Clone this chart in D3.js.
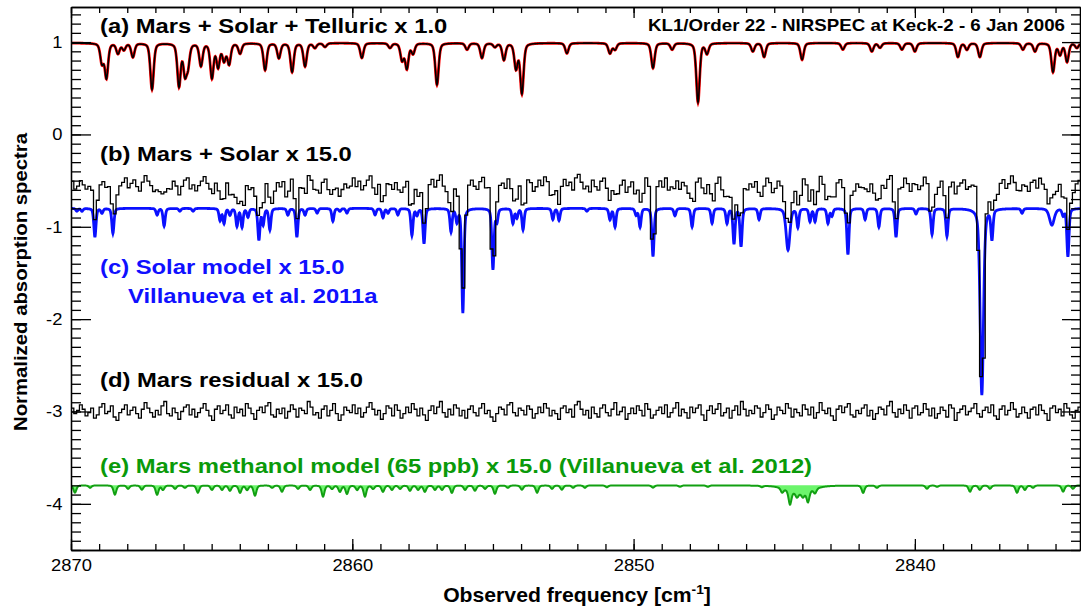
<!DOCTYPE html>
<html>
<head>
<meta charset="utf-8">
<script src="https://cdn.jsdelivr.net/npm/d3@7"></script>
<style>
body { margin: 0; background: #fff; }
text { font-family: "Liberation Sans", Arial, sans-serif; }
</style>
</head>
<body>
<div id="graph"></div>
<script>
// ---- data ----
// axis ranges
const freqDomain = [2870, 2834.13];
const yDomain = [-4.5, 1.38];
const xMajor = [2870, 2860, 2850, 2840];
const yMajor = [1, 0, -1, -2, -3, -4];

// continuum level of each stacked spectrum
const contA = 0.99, contB = -0.54, contC = -0.80, contD = -3.0, contE = -3.80;

// (a) Mars + solar + telluric: [freq cm-1, line minimum]
const tellLines = [
    [2868.90, 0.78], [2868.74, 0.62], [2868.33, 0.88], [2868.12, 0.92], [2867.80, 0.84],
    [2867.12, 0.49], [2866.16, 0.53], [2865.95, 0.68], [2865.84, 0.77], [2865.38, 0.75],
    [2864.99, 0.62], [2864.77, 0.74], [2864.56, 0.81], [2864.38, 0.77], [2863.99, 0.88],
    [2863.10, 0.70], [2862.61, 0.83], [2862.14, 0.68], [2861.68, 0.74], [2861.33, 0.94],
    [2860.97, 0.95], [2859.66, 0.83], [2858.66, 0.94], [2858.23, 0.81], [2858.06, 0.72],
    [2857.84, 0.88], [2856.99, 0.54], [2855.92, 0.92], [2855.39, 0.83], [2854.93, 0.95],
    [2854.61, 0.81], [2854.18, 0.72], [2853.97, 0.45], [2852.37, 0.88], [2850.84, 0.88],
    [2850.66, 0.92], [2849.31, 0.72], [2848.63, 0.92], [2847.71, 0.35], [2847.39, 0.88],
    [2845.76, 0.90], [2845.36, 0.84], [2844.01, 0.81], [2842.56, 0.92], [2841.53, 0.90],
    [2841.24, 0.94], [2840.46, 0.92], [2840.00, 0.90], [2838.47, 0.84], [2838.15, 0.92],
    [2837.69, 0.84], [2836.16, 0.92], [2835.73, 0.90], [2835.09, 0.68], [2834.84, 0.87],
    [2834.59, 0.79], [2834.24, 0.94]
];

// (c) solar model x 15: [freq, line minimum, optional half width]
const solarLines = [
    [2869.79, -0.83], [2869.61, -0.83], [2869.15, -1.11], [2868.90, -0.85], [2868.51, -1.07],
    [2866.94, -0.87], [2866.69, -0.99], [2866.13, -0.83], [2865.66, -0.83], [2864.70, -0.93],
    [2864.56, -0.96], [2864.35, -0.87], [2864.10, -0.99], [2863.92, -1.00], [2863.71, -0.89],
    [2863.32, -1.14], [2863.17, -0.97], [2862.93, -1.03], [2862.29, -0.87], [2861.97, -1.11],
    [2861.68, -0.87], [2861.25, -0.85], [2860.69, -0.94], [2860.44, -0.83], [2860.19, -0.85],
    [2859.19, -0.87], [2858.91, -0.90], [2858.73, -0.85], [2858.38, -0.87], [2857.88, -1.09],
    [2857.70, -0.87], [2857.45, -1.18], [2856.49, -1.05], [2856.28, -0.94], [2856.07, -1.93],
    [2855.00, -1.46], [2854.86, -0.94], [2854.29, -0.96], [2854.15, -0.90], [2853.93, -1.03],
    [2852.87, -0.92], [2852.65, -0.93], [2851.66, -0.83], [2850.84, -0.92], [2850.66, -1.00],
    [2849.91, -0.87], [2849.77, -1.00], [2849.31, -1.32], [2848.53, -0.88], [2847.92, -1.00],
    [2847.21, -0.96], [2846.68, -0.96], [2846.43, -1.18], [2846.18, -1.21], [2845.54, -0.92],
    [2844.51, -1.25, 0.08], [2844.16, -1.00], [2843.73, -0.94], [2843.55, -0.94], [2843.09, -0.96],
    [2842.95, -0.88], [2842.38, -1.30], [2841.77, -0.92], [2841.28, -1.00], [2840.67, -1.11],
    [2839.96, -0.86], [2839.39, -1.08], [2838.86, -1.10], [2837.62, -2.82, 0.07], [2837.26, -1.12],
    [2836.19, -0.85], [2835.13, -0.98, 0.1], [2834.73, -0.87], [2834.56, -1.32]
];

// (e) methanol model x 15: [freq, depth below continuum, optional half width]
const methLines = [
    [2869.86, 0.079], [2869.32, 0.025], [2868.44, 0.10], [2867.97, 0.036], [2867.48, 0.047],
    [2866.94, 0.10], [2866.73, 0.047], [2866.30, 0.036], [2865.95, 0.025], [2865.49, 0.079],
    [2864.99, 0.047], [2864.63, 0.047], [2864.35, 0.057], [2863.99, 0.079], [2863.74, 0.047],
    [2863.46, 0.11], [2862.85, 0.025], [2862.50, 0.068], [2861.93, 0.036], [2861.50, 0.047],
    [2861.04, 0.12], [2860.72, 0.036], [2860.44, 0.068], [2860.19, 0.09], [2859.83, 0.047],
    [2859.55, 0.12], [2859.26, 0.036], [2858.91, 0.068], [2858.59, 0.047], [2858.30, 0.036],
    [2857.95, 0.057], [2857.66, 0.047], [2857.42, 0.068], [2857.06, 0.047], [2856.81, 0.047],
    [2856.46, 0.079], [2855.99, 0.047], [2855.64, 0.057], [2855.28, 0.036], [2854.93, 0.09],
    [2854.47, 0.025], [2853.97, 0.047], [2853.43, 0.079], [2852.90, 0.036], [2852.55, 0.047],
    [2852.15, 0.025], [2851.73, 0.025], [2850.95, 0.02], [2849.31, 0.025], [2848.35, 0.015],
    [2847.36, 0.015], [2845.44, 0.015], [2844.72, 0.047], [2844.10, 0.08, 0.5],
    [2844.44, 0.15], [2844.19, 0.05], [2843.98, 0.05], [2843.80, 0.12], [2843.55, 0.05],
    [2841.84, 0.079], [2841.35, 0.025], [2839.57, 0.036], [2839.21, 0.015], [2838.04, 0.068],
    [2837.69, 0.047], [2837.33, 0.036], [2836.37, 0.079], [2836.09, 0.047], [2835.80, 0.025],
    [2834.73, 0.068], [2834.38, 0.036]
];

// (d) Mars residual (x0.01), one value per 0.1 cm-1 detector bin from 2870 down
const binWidth = 0.1;
const residual = [
    3, -2, 1, 6, 2, -4, -1, 3, -6, -3, 4, 7, -2, 0, 5, -5, -8, -1, 2, 6,
    -3, 1, 4, -2, -6, 2, 8, 3, -1, -5, 1, -3, 5, 9, -2, -4, 3, -1, -7, 0,
    4, 6, -3, 2, -5, -1, 3, 7, 1, -4, -8, 2, 5, -2, 1, 6, -3, -6, 4, -1,
    2, -4, 7, 3, -2, -7, 1, 4, -1, 5, 8, -3, -5, 2, -2, 3, -6, 0, 6, 2,
    -5, 3, 1, -2, 9, 4, -3, -1, -6, 2, 5, -4, 1, 7, -2, -8, -3, 4, 1, -1,
    6, -2, 3, -5, -1, 4, 8, 2, -3, 1, -7, -2, 5, 3, -4, 6, 1, -6, -2, 4,
    -1, 7, 2, -4, 3, -3, -8, 1, 5, -2, 4, 9, -1, -5, 2, -3, 6, 3, -4, 1,
    -6, 2, 5, -1, -4, 3, 7, -2, 1, -5, -9, -2, 4, 2, -3, 6, 8, -1, -4, 3,
    1, -3, 5, 2, -6, -2, 4, -1, 7, 3, -4, 1, -2, -7, 3, 5, -1, 2, -5, 6,
    9, 2, -3, 1, -6, 4, -2, -5, 3, 6, -1, -4, 2, 8, -3, 0, 4, -7, -2, 3,
    -2, 5, 1, -4, 7, 2, -6, -3, 1, 4, -2, 6, -5, -1, 3, 8, -4, 2, -1, -6,
    4, -1, 3, 6, -3, -8, 1, 5, -2, 2, 7, -4, -1, 3, -6, 1, 5, -3, 9, 2,
    -4, 1, -2, 5, 3, -5, -1, 6, 2, -7, -3, 4, 1, -2, 7, 3, -5, 2, -1, -4,
    6, 2, -3, 4, -6, -1, 8, 1, -2, 3, -4, -8, 2, 5, -1, 4, 7, -3, -5, 1,
    -2, 3, 6, -4, 1, -7, -2, 4, 2, -3, 5, 9, -1, -5, 2, -2, 6, 1, -6, 3,
    5, -3, -1, 7, 2, -4, 3, -6, -2, 4, 1, -5, 6, 3, -8, -1, 2, 5, -3, 0,
    3, 7, -2, -5, 1, 4, -1, 6, -4, -7, 2, 5, -3, 1, 8, 2, -5, -2, 4, -1,
    -6, 2, 4, -3, 6, 1, -2, -8, 3, 5, -1, 2, -4, 7, 3, -3, -6, 1, 4, -2
];

// ---- layout ----
const margin = { top: 7, right: 1, bottom: 62, left: 71 },
    width = 1081 - margin.left - margin.right,
    height = 612 - margin.top - margin.bottom;

let svg = d3.select("#graph")
    .append("svg")
    .attr("width", 1081)
    .attr("height", 612)
    .append("g")
    .attr("transform", "translate(" + margin.left + "," + margin.top + ")");

let x = d3.scaleLinear().domain(freqDomain).range([0, width]);
let y = d3.scaleLinear().domain(yDomain).range([height, 0]);

svg.append("clipPath").attr("id", "clip")
    .append("rect").attr("width", width).attr("height", height);

// line profile (gaussian core + lorentz wings)
const profile = (dx, hw) => {
    let u = dx / hw;
    return 0.6 * Math.exp(-0.693 * u * u) + 0.4 / (1 + u * u);
};
const spectrum = (lines, cont, hw, isMin) => (f) => {
    let v = cont;
    lines.forEach((l) => {
        let depth = isMin ? cont - l[1] : l[1];
        v -= depth * profile(f - l[0], l[2] || hw);
    });
    return v;
};

const fine = d3.range(freqDomain[0], freqDomain[1] - 0.005, -0.01);
const modelA = spectrum(tellLines, contA, 0.07, true);
const modelC = spectrum(solarLines, contC, 0.045, true);
const modelE = spectrum(methLines, contE, 0.06, false);

// detector bins: data = solar model shifted + residual noise
let bins = residual.map((r, i) => {
    let f0 = freqDomain[0] - i * binWidth;
    let inBin = fine.filter((f) => f <= f0 && f > f0 - binWidth);
    let m = d3.min(inBin, (f) => modelC(f) - contC);
    return { f: f0, b: contB + (m === undefined ? 0 : m) + r * 0.012, d: contD + r * 0.012 };
});
let last = bins[bins.length - 1];
bins.push({ f: last.f - binWidth, b: last.b, d: last.d });

let plot = svg.append("g").attr("clip-path", "url(#clip)");

const smooth = (fn) => d3.line().x((f) => x(f)).y((f) => y(fn(f)));

// (a) red model under black data
plot.append("path").datum(fine)
    .attr("d", smooth(modelA))
    .style("fill", "none").style("stroke", "#ff0000").style("stroke-width", 2.8);
plot.append("path").datum(fine)
    .attr("d", smooth(modelA))
    .style("fill", "none").style("stroke", "#000").style("stroke-width", 1.6);

// (c) solar model
plot.append("path").datum(fine)
    .attr("d", smooth(modelC))
    .style("fill", "none").style("stroke", "#0a10ff").style("stroke-width", 2.8);

// (b) Mars + solar data
plot.append("path").datum(bins)
    .attr("d", d3.line().curve(d3.curveStepAfter).x((d) => x(d.f)).y((d) => y(d.b)))
    .style("fill", "none").style("stroke", "#000").style("stroke-width", 1.3);

// (d) residual
plot.append("path").datum(bins)
    .attr("d", d3.line().curve(d3.curveStepAfter).x((d) => x(d.f)).y((d) => y(d.d)))
    .style("fill", "none").style("stroke", "#000").style("stroke-width", 1.3);

// (e) methanol model with fill
plot.append("path").datum(fine)
    .attr("d", d3.area().x((f) => x(f)).y0(y(contE)).y1((f) => y(modelE(f))))
    .style("fill", "#6cf56c").style("stroke", "none");
plot.append("path").datum(fine)
    .attr("d", smooth(modelE))
    .style("fill", "none").style("stroke", "#12a012").style("stroke-width", 2);

// ---- axes (ticks inward on all four sides) ----
const xMinor = d3.range(2870, 2834, -1);
const yMinor = d3.range(-45, 14).map((v) => v / 10);

const styleAxis = (g) => {
    g.selectAll("path, line").style("stroke", "#000").style("stroke-width", 1.3);
    g.selectAll("text").style("font-size", "17px").style("fill", "#000")
        .attr("transform", "scale(1.08,1)");
};

svg.append("g").attr("transform", "translate(0," + height + ")")
    .call(d3.axisBottom(x).tickValues(xMinor).tickFormat("").tickSizeInner(-6).tickSizeOuter(0)).call(styleAxis);
svg.append("g").attr("transform", "translate(0," + height + ")")
    .call(d3.axisBottom(x).tickValues(xMajor).tickFormat((d) => String(d)).tickSizeInner(-11).tickSizeOuter(0).tickPadding(9))
    .call(styleAxis);
svg.append("g")
    .call(d3.axisTop(x).tickValues(xMinor).tickFormat("").tickSizeInner(-6).tickSizeOuter(0)).call(styleAxis);
svg.append("g")
    .call(d3.axisTop(x).tickValues(xMajor).tickFormat("").tickSizeInner(-11).tickSizeOuter(0)).call(styleAxis);

svg.append("g")
    .call(d3.axisLeft(y).tickValues(yMinor).tickFormat("").tickSizeInner(-10).tickSizeOuter(0)).call(styleAxis);
svg.append("g")
    .call(d3.axisLeft(y).tickValues(yMajor).tickFormat((d) => String(d)).tickSizeInner(-20).tickSizeOuter(0).tickPadding(8))
    .call(styleAxis);
svg.append("g").attr("transform", "translate(" + width + ",0)")
    .call(d3.axisRight(y).tickValues(yMinor).tickFormat("").tickSizeInner(-9).tickSizeOuter(0)).call(styleAxis);
svg.append("g").attr("transform", "translate(" + width + ",0)")
    .call(d3.axisRight(y).tickValues(yMajor).tickFormat("").tickSizeInner(-18).tickSizeOuter(0)).call(styleAxis);

// text helper: the original lettering is wider than Arial, so stretch it
const addText = (str, px, py, size, color, anchor, sx) => svg.append("text")
    .attr("transform", "translate(" + (px - margin.left) + "," + (py - margin.top) + ") scale(" + sx + ",1)")
    .style("text-anchor", anchor).style("font-size", size + "px").style("font-weight", "bold")
    .style("fill", color)
    .text(str);

// axis titles
svg.append("text")
    .attr("transform", "translate(" + (27 - margin.left) + "," + (282 - margin.top) + ") rotate(-90) scale(1.13,1)")
    .style("text-anchor", "middle").style("font-size", "18px").style("font-weight", "bold")
    .text("Normalized absorption spectra");

let xt = svg.append("text")
    .attr("transform", "translate(" + (577 - margin.left) + "," + (602 - margin.top) + ") scale(1.06,1)")
    .style("text-anchor", "middle").style("font-size", "20px").style("font-weight", "bold");
xt.append("tspan").text("Observed frequency [cm");
xt.append("tspan").attr("dy", -8).style("font-size", "13px").text("-1");
xt.append("tspan").attr("dy", 8).text("]");

// ---- panel labels ----
const labels = [
    ["(a) Mars + Solar + Telluric x 1.0", 100, 33, "#000"],
    ["(b) Mars + Solar x 15.0", 100, 161, "#000"],
    ["(c) Solar model x 15.0", 100, 274, "#1010ff"],
    ["Villanueva et al. 2011a", 128, 303, "#1010ff"],
    ["(d) Mars residual x 15.0", 100, 387, "#000"],
    ["(e) Mars methanol model (65 ppb) x 15.0 (Villanueva et al. 2012)", 100, 473, "#0a9a0a"]
];
labels.forEach((d) => addText(d[0], d[1], d[2], 20, d[3], "start", 1.19));

addText("KL1/Order 22 - NIRSPEC at Keck-2 - 6 Jan 2006", 1065, 31, 16, "#000", "end", 1.17);
</script>
</body>
</html>
